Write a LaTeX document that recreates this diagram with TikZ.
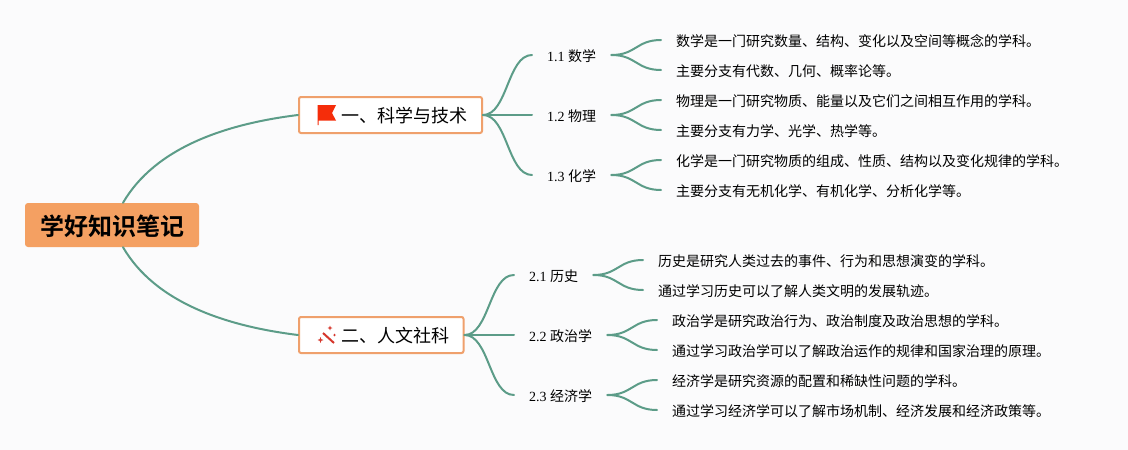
\documentclass[tikz,border=0pt]{standalone}
\usepackage{fontspec}
\setmainfont{Liberation Serif}
\newfontfamily\cjk{Noto Sans CJK SC}
\newfontfamily\cjkb{Noto Sans CJK SC Bold}
\usetikzlibrary{calc}
\definecolor{bg}{HTML}{FBFBFC}
\definecolor{linkc}{HTML}{5C9C88}
\definecolor{rootc}{HTML}{F4A062}
\definecolor{boxc}{HTML}{EFA06C}
\definecolor{flagc}{HTML}{F52D0A}
\definecolor{wandc}{HTML}{D6372C}
\tikzset{
  x=1pt,y=-1pt,
  rootnode/.style={fill=rootc,rounded corners=3pt,minimum width=174pt,minimum height=44pt,inner sep=0pt,text height=23pt,text depth=1.4pt,font=\fontsize{24}{28}\selectfont\cjkb,text=black},
  topicbox/.style={draw=boxc,line width=2pt,fill=white,rounded corners=2pt,minimum height=36pt,inner sep=0pt,anchor=west,text height=17pt,text depth=1.3pt,font=\fontsize{18}{22}\selectfont\cjk,text=black},
  subnode/.style={anchor=west,inner xsep=15pt,inner ysep=2pt,text height=14pt,text depth=1.2pt,font=\fontsize{14}{17}\selectfont,text=black},
  leafnode/.style={anchor=west,inner xsep=15pt,inner ysep=2pt,text height=14pt,text depth=1.2pt,font=\fontsize{14}{17}\selectfont\cjk,text=black},
  linkline/.style={draw=linkc,line width=2pt,line cap=round},
  bez/.style={to path={let \p1=(\tikztostart),\p2=(\tikztotarget) in .. controls ({(\x1+\x2)/2},\y1) and ({(\x1+\x2)/2},\y2) .. (\tikztotarget)}},
}
\begin{document}
\begin{tikzpicture}
\useasboundingbox[fill=bg] (0,0) rectangle (1128,450);
% nodes
\node[rootnode] (root) at (112,225) {\hspace*{0.5pt}学好知识笔记};
\node[topicbox] (t1) at (298,115) {\hspace*{42pt}一、科学与技术\hspace*{15pt}};
\node[topicbox] (t2) at (298,335) {\hspace*{42pt}二、人文社科\hspace*{14.5pt}};
\node[subnode] (s11) at (532,55) {1.1 {\cjk 数学}};
\node[subnode] (s12) at (532,115) {1.2 {\cjk 物理}};
\node[subnode] (s13) at (532,175) {1.3 {\cjk 化学}};
\node[subnode] (s21) at (514,275) {2.1 {\cjk 历史}};
\node[subnode] (s22) at (514,335) {2.2 {\cjk 政治学}};
\node[subnode] (s23) at (514,395) {2.3 {\cjk 经济学}};
\node[leafnode] (l111) at (661,40) {数学是一门研究数量、结构、变化以及空间等概念的学科。};
\node[leafnode] (l112) at (661,70) {主要分支有代数、几何、概率论等。};
\node[leafnode] (l121) at (661,100) {物理是一门研究物质、能量以及它们之间相互作用的学科。};
\node[leafnode] (l122) at (661,130) {主要分支有力学、光学、热学等。};
\node[leafnode] (l131) at (661,160) {化学是一门研究物质的组成、性质、结构以及变化规律的学科。};
\node[leafnode] (l132) at (661,190) {主要分支有无机化学、有机化学、分析化学等。};
\node[leafnode] (l211) at (643,260) {历史是研究人类过去的事件、行为和思想演变的学科。};
\node[leafnode] (l212) at (643,290) {通过学习历史可以了解人类文明的发展轨迹。};
\node[leafnode] (l221) at (657,320) {政治学是研究政治行为、政治制度及政治思想的学科。};
\node[leafnode] (l222) at (657,350) {通过学习政治学可以了解政治运作的规律和国家治理的原理。};
\node[leafnode] (l231) at (657,380) {经济学是研究资源的配置和稀缺性问题的学科。};
\node[leafnode] (l232) at (657,410) {通过学习经济学可以了解市场机制、经济发展和经济政策等。};
% root connectors
\draw[linkline] ([xshift=11pt]root.north) .. controls +(32,-55) and +(-73,9) .. (t1.west);
\draw[linkline] ([xshift=11pt]root.south) .. controls +(32,55) and +(-73,-9) .. (t2.west);
% topic connectors
\foreach \a/\b in {t1/s11,t1/s12,t1/s13,t2/s21,t2/s22,t2/s23}
  \draw[linkline,bez] (\a.east) to (\b.west);
% leaf connectors
\foreach \a/\b in {s11/l111,s11/l112,s12/l121,s12/l122,s13/l131,s13/l132,s21/l211,s21/l212,s22/l221,s22/l222,s23/l231,s23/l232}
  \draw[linkline,bez] (\a.east) to (\b.west);
% flag icon
\fill[flagc] (317.5,105) -- (336,105) -- (332,113) -- (336,120.5) -- (318.5,120.5) -- (318.5,125) -- (317.5,125) -- cycle;
% wand icon
\draw[wandc,line width=2pt] (323,333) -- (334,343);
\fill[wandc] (330,325.5) -- (330.7,327.3) -- (332.5,328) -- (330.7,328.7) -- (330,330.5) -- (329.3,328.7) -- (327.5,328) -- (329.3,327.3) -- cycle;
\fill[wandc] (320.5,337) -- (321.3,339.2) -- (323.5,340) -- (321.3,340.8) -- (320.5,343) -- (319.7,340.8) -- (317.5,340) -- (319.7,339.2) -- cycle;
\fill[wandc] (334.5,333.5) -- (335,334.5) -- (336,335) -- (335,335.5) -- (334.5,336.5) -- (334,335.5) -- (333,335) -- (334,334.5) -- cycle;
\end{tikzpicture}
\end{document}
